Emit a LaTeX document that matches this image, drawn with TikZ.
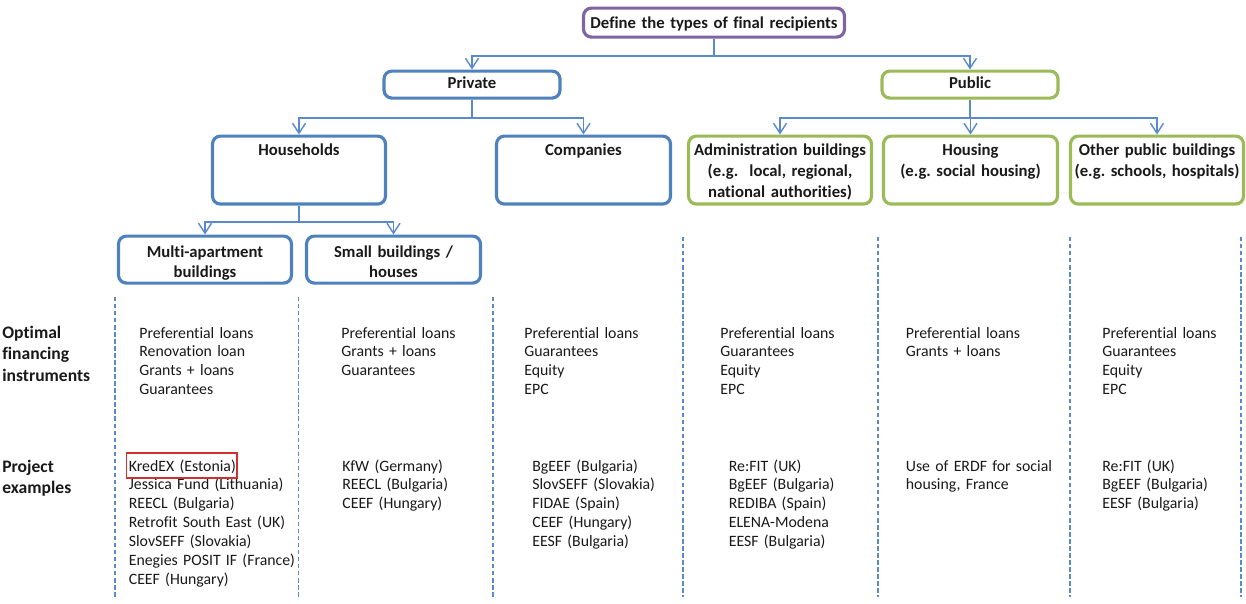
\documentclass[tikz,border=0pt]{standalone}
\usepackage{fontspec}
\setmainfont{Carlito}[Ligatures=NoCommon]
\usetikzlibrary{arrows.meta}
\definecolor{privblue}{HTML}{4F81BD}
\definecolor{pubgreen}{HTML}{9BBB59}
\definecolor{headpurple}{HTML}{8064A2}
\definecolor{lineblue}{HTML}{5A8ACB}
\definecolor{kredred}{HTML}{D03030}
\begin{document}
\begin{tikzpicture}[x=0.02cm,y=-0.02cm,color=black!90]
% Set styles for boxes, connectors and lists
\tikzstyle{Box}=[line width=1.8pt,rounded corners=4.5pt,inner sep=0pt,anchor=north,align=center,font=\fontsize{9.5}{11.8}\selectfont\bfseries]
\tikzstyle{Head}=[Box,draw=headpurple,text width=5.22cm,text height=0.41cm,text depth=0.17cm]
\tikzstyle{Sector}=[Box,text width=3.52cm,text height=0.35cm,text depth=0.19cm]
\tikzstyle{Group}=[Box,text height=0.39cm,text depth=0.97cm]
\tikzstyle{Building}=[Box,draw=privblue,text height=0.42cm,text depth=0.52cm]
\tikzstyle{List}=[anchor=base west,align=left,text width=4cm,inner sep=0pt,font=\fontsize{9}{10.8}\selectfont]
\tikzstyle{Row}=[List,text width=2cm,font=\fontsize{10}{12.2}\selectfont\bfseries]
\tikzstyle{Link}=[draw=lineblue,line width=0.8pt,-{Straight Barb[length=2mm,width=2.6mm]}]
\tikzstyle{Divider}=[draw=lineblue,line width=0.9pt,dash pattern=on 2.5pt off 1.5pt]
\useasboundingbox (0,0) rectangle (1246,603);
% Nodes
\node[Head] (recip) at (714,6.5) {Define the types of final recipients};
\foreach \x/\t/\c/\n in {472/Private/privblue/private, 970/Public/pubgreen/public}
  \node[Sector,draw=\c] (\n) at (\x,69.5) {\t};
\foreach \x/\w/\t/\c/\n in {
    299/3.46/Households/privblue/house,
    583.5/3.48/Companies/privblue/comp,
    780/3.66/{Administration buildings\\(e.g.\ \ local, regional,\\national authorities)}/pubgreen/admin,
    970.5/3.48/{Housing\\(e.g.\ social housing)}/pubgreen/housing,
    1157/3.46/{Other public buildings\\(e.g.\ schools, hospitals)}/pubgreen/other}
  \node[Group,draw=\c,text width=\w cm] (\n) at (\x,134.5) {\t};
\foreach \x/\w/\t/\n in {
    205/3.46/{Multi-apartment\\buildings}/multi,
    393.5/3.48/{Small buildings /\\houses}/small}
  \node[Building,text width=\w cm] (\n) at (\x,234.5) {\t};
% Edges
\draw[Link] (recip.south) -- ++(0,17.5) -| (private.north);
\draw[Link] (recip.south) -- ++(0,17.5) -| (public.north);
\foreach \j in {house,comp}
  \draw[Link] (private.south) -- ++(0,18.5) -| (\j.north);
\foreach \j in {admin,housing,other}
  \draw[Link] (public.south) -- ++(0,18.5) -| (\j.north);
\foreach \j in {multi,small}
  \draw[Link] (house.south) -- ++(0,16.5) -| (\j.north);
% Column dividers
\foreach \x in {115,298.5,493}
  \draw[Divider] (\x,297) -- (\x,597);
\foreach \x in {683,878,1070,1241}
  \draw[Divider] (\x,237) -- (\x,597);
% Row labels
\node[Row] (optimal) at (2,338.5) {Optimal\\financing\\instruments};
\node[Row] (project) at (2,472.5) {Project\\examples};
% Instruments
\foreach \x/\t [count=\i] in {
    139/{Preferential loans\\Renovation loan\\Grants + loans\\Guarantees},
    341/{Preferential loans\\Grants + loans\\Guarantees},
    524/{Preferential loans\\Guarantees\\Equity\\EPC},
    720/{Preferential loans\\Guarantees\\Equity\\EPC},
    905.5/{Preferential loans\\Grants + loans},
    1102/{Preferential loans\\Guarantees\\Equity\\EPC}}
  \node[List] (instr\i) at (\x,338) {\t};
% Examples
\foreach \x/\t [count=\i] in {
    128.5/{KredEX (Estonia)\\Jessica Fund (Lithuania)\\REECL (Bulgaria)\\Retrofit South East (UK)\\SlovSEFF (Slovakia)\\Enegies POSIT IF (France)\\CEEF (Hungary)},
    342/{KfW (Germany)\\REECL (Bulgaria)\\CEEF (Hungary)},
    532/{BgEEF (Bulgaria)\\SlovSEFF (Slovakia)\\FIDAE (Spain)\\CEEF (Hungary)\\EESF (Bulgaria)},
    728.5/{Re:FIT (UK)\\BgEEF (Bulgaria)\\REDIBA (Spain)\\ELENA-Modena\\EESF (Bulgaria)},
    905.5/{Use of ERDF for social\\housing, France},
    1102/{Re:FIT (UK)\\BgEEF (Bulgaria)\\EESF (Bulgaria)}}
  \node[List] (exam\i) at (\x,471) {\t};
\draw[kredred,line width=0.8pt] (126.5,453) rectangle (237,478);
\end{tikzpicture}
\end{document}
